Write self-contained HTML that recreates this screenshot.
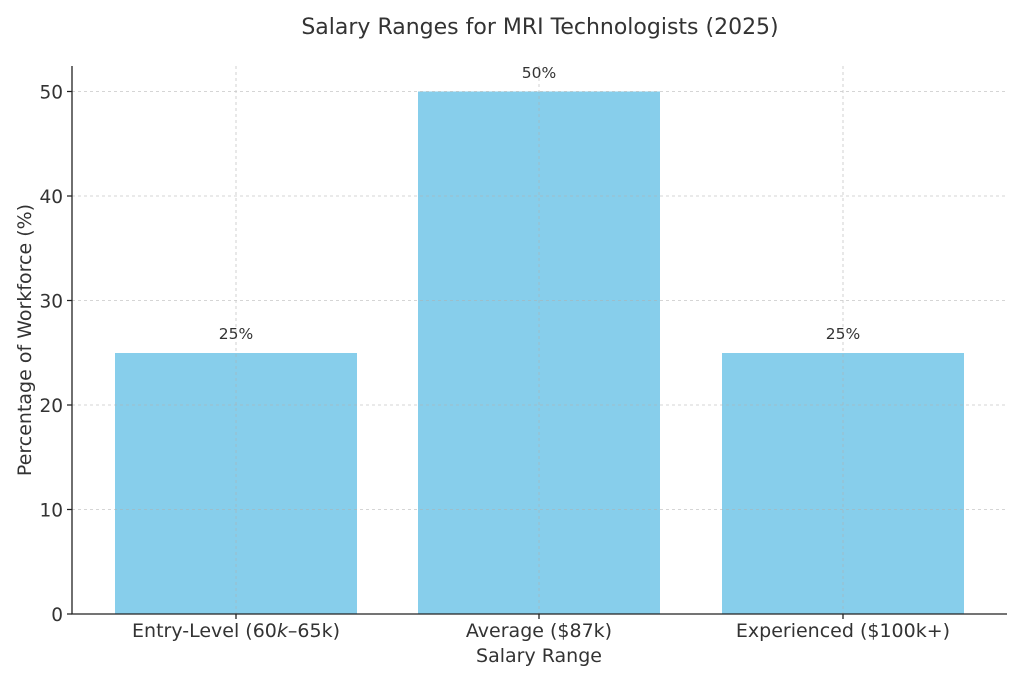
<!DOCTYPE html>
<html><head><style>body{margin:0;background:#fff}svg{display:block}text{font-family:"DejaVu Sans","Liberation Sans",sans-serif;fill:#333}</style></head>
<body>
<svg width="1024" height="683" viewBox="0 0 1024 683" xmlns="http://www.w3.org/2000/svg">
<rect width="1024" height="683" fill="#fff"/>
<text x="540" y="34" font-size="22" text-anchor="middle">Salary Ranges for MRI Technologists (2025)</text>
<g fill="#87ceeb">
<rect x="115" y="353" width="242" height="261"/>
<rect x="418" y="91.5" width="242" height="522.5"/>
<rect x="722" y="353" width="242" height="261"/>
</g>
<g stroke="#b0b0b0" stroke-width="0.8" stroke-dasharray="3,3" opacity="0.7">
<line x1="72" x2="1007" y1="509.5" y2="509.5"/>
<line x1="72" x2="1007" y1="405" y2="405"/>
<line x1="72" x2="1007" y1="300.5" y2="300.5"/>
<line x1="72" x2="1007" y1="196" y2="196"/>
<line x1="72" x2="1007" y1="91.5" y2="91.5"/>
<line x1="236" x2="236" y1="66" y2="614"/>
<line x1="539" x2="539" y1="66" y2="614"/>
<line x1="843" x2="843" y1="66" y2="614"/>
</g>
<g stroke="#222" stroke-width="1.3" fill="none">
<path d="M72 66 V614 H1007"/>
<path d="M67 614H72M67 509.5H72M67 405H72M67 300.5H72M67 196H72M67 91.5H72"/>
<path d="M236 614V619M539 614V619M843 614V619"/>
</g>
<g font-size="18.5" text-anchor="end">
<text x="63" y="621">0</text><text x="63" y="516.5">10</text><text x="63" y="412">20</text>
<text x="63" y="307.5">30</text><text x="63" y="203">40</text><text x="63" y="98.5">50</text>
</g>
<g font-size="19" text-anchor="middle">
<text x="236" y="637">Entry-Level (60<tspan font-style="italic">k</tspan>–65k)</text>
<text x="539" y="637">Average ($87k)</text>
<text x="843" y="637">Experienced ($100k+)</text>
<text x="539" y="662">Salary Range</text>
<text transform="translate(31,340) rotate(-90)">Percentage of Workforce (%)</text>
</g>
<g font-size="15.5" text-anchor="middle">
<text x="236" y="339">25%</text><text x="539" y="78">50%</text><text x="843" y="339">25%</text>
</g>
</svg>
</body></html>
